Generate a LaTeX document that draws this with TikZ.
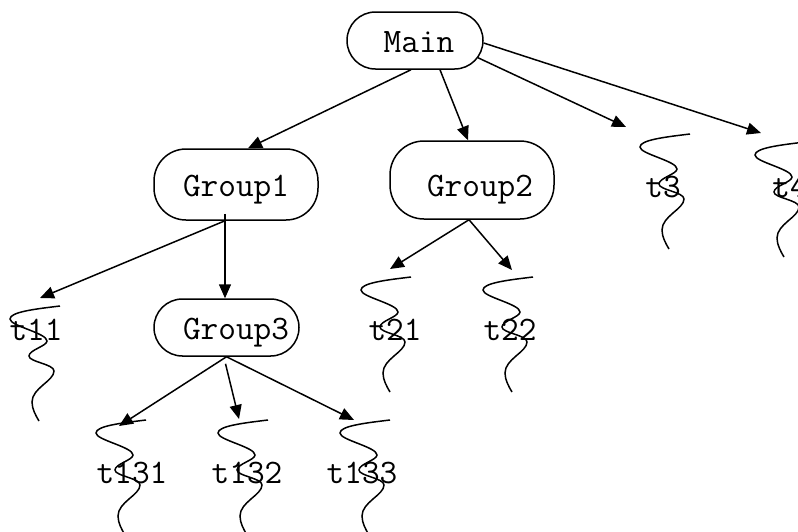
\documentclass[tikz,border=0pt]{standalone}
\usetikzlibrary{arrows.meta}
\tikzset{
  every node/.style={font=\fontsize{34.3}{34.3}\selectfont\ttfamily},
  groupbox/.style={draw,line width=1.5pt,inner sep=0pt,text height=24pt,text depth=0pt},
  leaflabel/.style={inner sep=0pt,text height=20pt,text depth=0pt},
  link/.style={line width=1.5pt,-{Triangle[length=14pt,width=12pt]}},
  squiggle/.style={line width=1.5pt}
}
\newcommand{\leafcurve}[1]{%
  \draw[squiggle,shift={(#1)}] (0,0) .. controls (-25,3) and (-50,6) .. (-50,13)
    .. controls (-50,20) and (-13,27) .. (-13,35)
    .. controls (-13,40) and (-31,44) .. (-31,50)
    .. controls (-31,56) and (-6,58) .. (-6,65)
    .. controls (-6,75) and (-28,82) .. (-28,96)
    .. controls (-28,103) and (-24,110) .. (-21,115);}
\begin{document}
\begin{tikzpicture}[x=1pt,y=-1pt]
\useasboundingbox (0,0) rectangle (798,531);
\clip (0,0) rectangle (798,531);
% boxes
\node[groupbox,minimum width=136pt,minimum height=57pt,rounded corners=28.4pt] (Main) at (415,40.5) {\hspace*{8pt}Main};
\node[groupbox,minimum width=164pt,minimum height=71pt,rounded corners=32pt] (Group1) at (236,184.5) {Group1};
\node[groupbox,minimum width=164pt,minimum height=78pt,rounded corners=34pt,text height=33pt] (Group2) at (472,180) {\hspace*{16pt}Group2};
\node[groupbox,minimum width=145pt,minimum height=57pt,rounded corners=28.4pt] (Group3) at (226.5,327.5) {\hspace*{19pt}Group3};
% leaf labels
\node[leaflabel] (t3) at (663,187) {t3};
\node[leaflabel] (t4) at (790,187) {t4};
\node[leaflabel] (t11) at (36,330) {t11};
\node[leaflabel] (t21) at (395,330) {t21};
\node[leaflabel] (t22) at (510,330) {t22};
\node[leaflabel] (t131) at (132,473) {t131};
\node[leaflabel] (t132) at (247,473) {t132};
\node[leaflabel] (t133) at (362,473) {t133};
% leaf curves
\leafcurve{690,134}
\leafcurve{805,142}
\leafcurve{60,306}
\leafcurve{411,277}
\leafcurve{533,277}
\leafcurve{146,420}
\leafcurve{268,420}
\leafcurve{390,420}
% free ends of connectors
\coordinate (t3end) at (626,127);
\coordinate (t4end) at (761,133);
\coordinate (t11end) at (40,298);
\coordinate (t21end) at (390,269);
\coordinate (t22end) at (512,270);
\coordinate (t131end) at (119,426);
\coordinate (t132end) at (239,419);
\coordinate (t133end) at (354,420);
% connectors
\draw[link] ([xshift=-4pt]Main.south) -- ([xshift=12pt]Group1.north);
\draw[link] ([xshift=25pt]Main.south) -- ([xshift=-4pt]Group2.north);
\draw[link] ([xshift=63pt,yshift=12pt]Main.south) -- (t3end);
\draw[link] (Main.east) ++(0,2.5) -- (t4end);
\draw[link] ([xshift=-11pt]Group1.south) -- (t11end);
\draw[link] ([xshift=-11pt,yshift=7pt]Group1.south) -- ([xshift=-1.5pt]Group3.north);
\draw[link] ([xshift=-3pt]Group2.south) -- (t21end);
\draw[link] ([xshift=-3pt]Group2.south) -- (t22end);
\draw[link] (Group3.south) -- (t131end);
\draw[link] ([xshift=-1pt,yshift=-7pt]Group3.south) -- (t132end);
\draw[link] (Group3.south) -- (t133end);
\end{tikzpicture}
\end{document}
